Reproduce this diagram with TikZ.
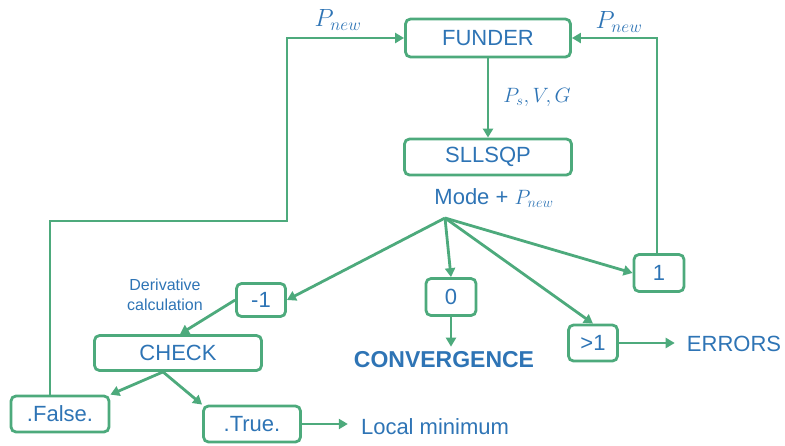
\documentclass[tikz,border=0pt]{standalone}
\usepackage{fontspec}
\setmainfont{Liberation Sans}
\definecolor{fGreen}{HTML}{4DAA7C}
\definecolor{fBlue}{HTML}{2E74B5}
\usetikzlibrary{arrows.meta}

\begin{document}
\begin{tikzpicture}[x=1pt, y=-1pt,
  b/.style={draw=fGreen, line width=2.8pt, rounded corners=5pt, text=fBlue,
            inner sep=0pt, font=\fontsize{22}{24}\selectfont},
  t/.style={text=fBlue, inner sep=0pt, font=\fontsize{22}{24}\selectfont},
  lab/.style={text=fBlue, inner sep=0pt, font=\fontsize{24}{26}\selectfont},
  a/.style={draw=fGreen, line width=2.8pt, -{Triangle[length=9pt, width=10pt]}}]
  \useasboundingbox (0,0) rectangle (785,445);
  \node[b, minimum width=165pt, minimum height=38pt] (funder) at (488,38)  {FUNDER};
  \node[b, minimum width=167pt, minimum height=36pt] (sllsqp) at (488,157) {SLLSQP};
  \node[t] (mode) at (494,198) {Mode + $P_{new}$};
  \coordinate (br) at (445,218);
  \node[b, minimum width=49pt, minimum height=33pt] (m1)  at (261,300) {-1};
  \node[b, minimum width=50pt, minimum height=37pt] (z0)  at (451,297) {0};
  \node[b, minimum width=50pt, minimum height=37pt] (one) at (659,273) {1};
  \node[b, minimum width=49pt, minimum height=36pt] (gt1) at (593,343) {>1};
  \node[b, minimum width=167pt, minimum height=35pt] (check) at (178,353) {CHECK};
  \node[b, minimum width=98pt, minimum height=36pt] (false) at (60,414)  {.False.};
  \node[b, minimum width=97pt, minimum height=36pt] (true)  at (252,424) {.True.};
  \node[t, font=\fontsize{23}{25}\selectfont\bfseries] (conv) at (444,360) {CONVERGENCE};
  \node[t] (errors) at (734,344) {ERRORS};
  \node[t] (locmin) at (435,427) {Local minimum};
  \node[t, font=\fontsize{16}{20}\selectfont, align=center] (deriv) at (165,295)
    {Derivative\\calculation};
  \node[lab] (pl) at (338,20) {$P_{new}$};
  \node[lab] (pr) at (619,22) {$P_{new}$};
  \node[lab, font=\fontsize{21}{23}\selectfont] (psvg) at (537,97) {$P_s, V, G$};
  \coordinate (lB) at (287,221);
  % main chain
  \draw[a] (funder) -- (sllsqp);
  \foreach \n/\e in {m1/east, z0/north, one/west, gt1/north}
    \draw[a] (br) -- (\n.\e);
  \draw[a] (m1.west) -- ([xshift=2pt]check.north);
  \draw[a] ([xshift=-15pt]check.south) -- (false.north east);
  \draw[a] ([xshift=-15pt]check.south) -- (true.north west);
  \draw[a] (z0) -- ([yshift=5pt]z0 |- conv.north);
  \draw[a] (gt1) -- ([xshift=-12pt]gt1 -| errors.west);
  \draw[a] (true) -- ([xshift=-13pt]true -| locmin.west);
  % feedback loops
  \draw[a] ([xshift=-10pt]false.north) |- (lB) |- (funder.west);
  \draw[a] ([xshift=-2pt]one.north) |- (funder.east);
\end{tikzpicture}
\end{document}
